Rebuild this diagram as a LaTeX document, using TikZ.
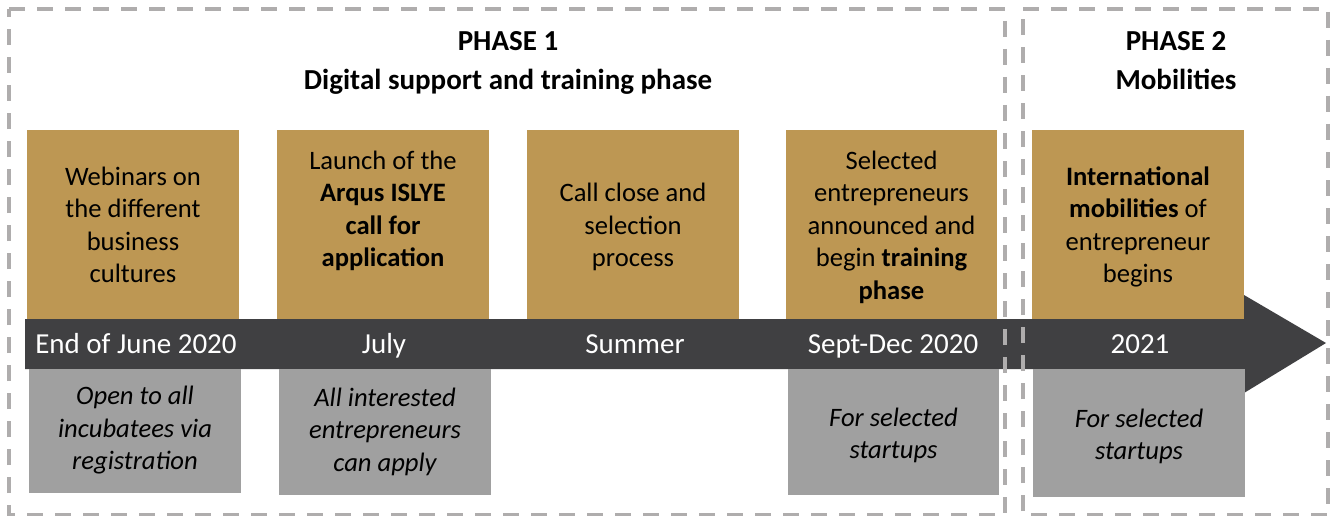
\documentclass[tikz,border=0pt]{standalone}
\usepackage{fontspec}
\setmainfont{Carlito}
\definecolor{gold}{RGB}{189,151,83}
\definecolor{boxgray}{RGB}{160,160,160}
\definecolor{bardark}{RGB}{64,64,66}
\definecolor{dashgray}{RGB}{175,173,173}
\newcommand\ms{\rule[-6.75pt]{0pt}{32.5pt}}
\begin{document}
\begin{tikzpicture}[x=1pt,y=-1pt,
  goldbox/.style={fill=gold,draw=none,minimum width=212pt,minimum height=189pt,inner sep=0pt,align=center,text=black,font=\fontsize{26.6}{32.5}\selectfont},
  graybox/.style={fill=boxgray,draw=none,minimum width=212pt,inner sep=0pt},
  graytext/.style={align=center,font=\fontsize{26.6}{32.5}\selectfont\itshape,inner sep=0pt},
  bartext/.style={text=white,font=\fontsize{29}{32}\selectfont,inner sep=0pt},
  titletext/.style={align=center,font=\fontsize{29}{39}\selectfont\bfseries,inner sep=0pt},
  phasebox/.style={draw=dashgray,line width=3.5pt,dash pattern=on 16pt off 12pt}
]
\useasboundingbox (0,0) rectangle (1335,516);
\fill[white] (0,0) rectangle (1335,516);

% titles
\node[titletext] (t1) at (508,62) {\strut PHASE 1\\ \strut Digital support and training phase};
\node[titletext] (t2) at (1176,62) {\strut PHASE 2\\ \strut Mobilities};

% gold boxes
\node[goldbox] (g1) at (133,224.5) {\ms Webinars on\\ \ms the different\\ \ms business\\ \ms cultures};
\node[goldbox] (g2) at (383,224.5) {\ms Launch of the\\ \ms\textbf{Arqus ISLYE}\\ \ms\textbf{call for}\\ \ms\textbf{application}\\ \ms};
\node[goldbox] (g3) at (633,224.5) {\ms Call close and\\ \ms selection\\ \ms process};
\node[goldbox,minimum width=211pt] (g4) at (891.5,224.5) {\ms Selected\\ \ms entrepreneurs\\ \ms announced and\\ \ms begin \textbf{training}\\ \ms\textbf{phase}};
\node[goldbox] (g5) at (1138,224.5) {\ms\textbf{International}\\ \ms\textbf{mobilities} of\\ \ms entrepreneur\\ \ms begins};

% arrow bar
\fill[bardark] (25,319) -- (1244,319) -- (1244,295) -- (1326,343) -- (1244,393) -- (1244,369) -- (25,369) -- cycle;

% gray boxes
\node[graybox,minimum height=124pt] (s1) at (135,431) {};
\node[graytext] (s1t) at (135,427.5) {\ms Open to all\\ \ms incubatees via\\ \ms registration};
\node[graybox,minimum height=126pt] (s2) at (385,432) {};
\node[graytext] (s2t) at (385,429) {\ms All interested\\ \ms entrepreneurs\\ \ms can apply};
\node[graybox,minimum width=211pt,minimum height=126pt] (s4) at (893.5,432) {};
\node[graytext] (s4t) at (893.5,433) {\ms For selected\\ \ms startups};
\node[graybox,minimum height=128pt] (s5) at (1139,433) {};
\node[graytext] (s5t) at (1139,434) {\ms For selected\\ \ms startups};

% bar labels
\node[bartext] (b1) at (136,347) {\strut End of June 2020};
\node[bartext] (b2) at (384,347) {\strut July};
\node[bartext] (b3) at (635,347) {\strut Summer};
\node[bartext] (b4) at (893,347) {\strut Sept-Dec 2020};
\node[bartext] (b5) at (1140,347) {\strut 2021};

% phase frames
\draw[phasebox] (9,9) -- (1005,9) -- (1005,515) -- (9,515) -- cycle;
\draw[phasebox] (1023,9) -- (1328,9) -- (1328,515) -- (1023,515) -- cycle;
\end{tikzpicture}
\end{document}
